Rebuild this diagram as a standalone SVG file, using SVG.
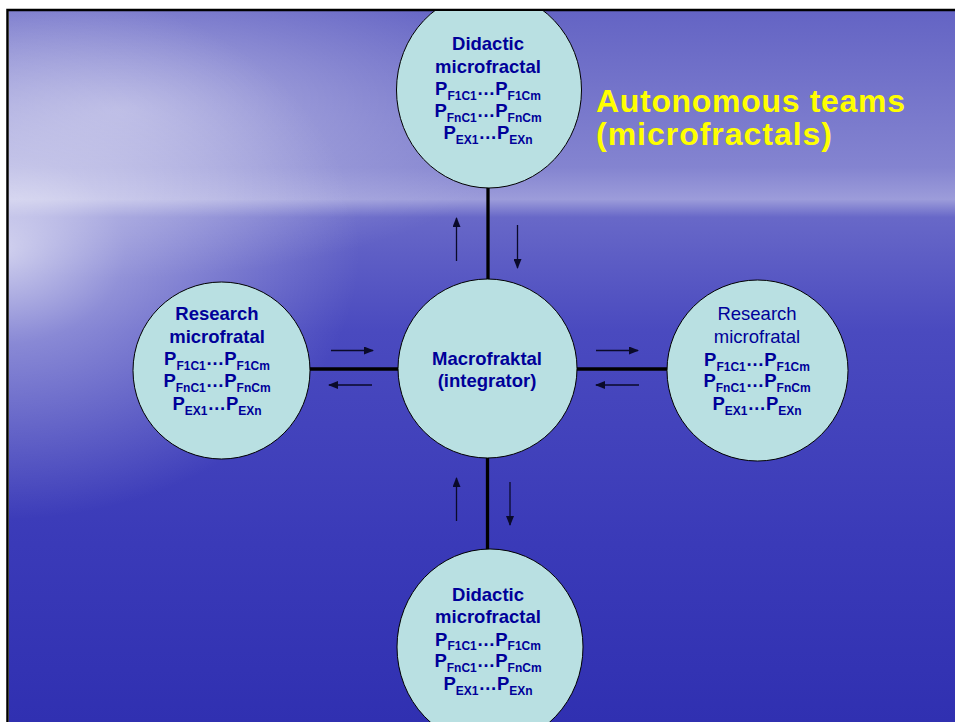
<svg xmlns="http://www.w3.org/2000/svg" width="955" height="722" viewBox="0 0 955 722">
  <defs>
    <linearGradient id="bgV" x1="0" y1="11" x2="0" y2="722" gradientUnits="userSpaceOnUse">
      <stop offset="0" stop-color="#6464c4"/>
      <stop offset="0.22" stop-color="#8484d0"/>
      <stop offset="0.265" stop-color="#9c9cda"/>
      <stop offset="0.29" stop-color="#6868c8"/>
      <stop offset="0.45" stop-color="#4a4abf"/>
      <stop offset="0.75" stop-color="#3a3ab8"/>
      <stop offset="1" stop-color="#3030b1"/>
    </linearGradient>
    <radialGradient id="sky" cx="120" cy="110" r="420" gradientUnits="userSpaceOnUse" gradientTransform="translate(120 110) scale(1 0.4) translate(-120 -110)">
      <stop offset="0" stop-color="#ffffff" stop-opacity="0.4"/>
      <stop offset="0.6" stop-color="#ffffff" stop-opacity="0.15"/>
      <stop offset="1" stop-color="#ffffff" stop-opacity="0"/>
    </radialGradient>
    <radialGradient id="glow" cx="0" cy="250" r="360" gradientUnits="userSpaceOnUse" gradientTransform="translate(0 250) scale(1 0.75) translate(0 -250)">
      <stop offset="0" stop-color="#ffffff" stop-opacity="0.7"/>
      <stop offset="0.35" stop-color="#ffffff" stop-opacity="0.35"/>
      <stop offset="1" stop-color="#ffffff" stop-opacity="0"/>
    </radialGradient>
    <clipPath id="slide">
      <rect x="9" y="11" width="946" height="711"/>
    </clipPath>
    <marker id="ah" markerUnits="userSpaceOnUse" markerWidth="10" markerHeight="8" refX="9" refY="4" orient="auto">
      <path d="M0,0 L10,4 L0,8 Z" fill="#0a0a2a"/>
    </marker>
  </defs>
  <style>
    .node { fill: #b9e0e2; stroke: #000; stroke-width: 1; }
    .t { font-family: "Liberation Sans", Arial, sans-serif; font-size: 18.5px; font-weight: bold; fill: #000099; text-anchor: middle; }
    .t.reg { font-weight: normal; }
    .sub { font-size: 12px; }
    .link { stroke: #000; stroke-width: 3.3; fill: none; }
    .flow { stroke: #0a0a2a; stroke-width: 1.3; fill: none; marker-end: url(#ah); }
    .title { font-family: "Liberation Sans", Arial, sans-serif; font-size: 32px; font-weight: bold; fill: #ffff00; }
  </style>

  <rect x="0" y="0" width="955" height="722" fill="#ffffff"/>
  <g id="background" clip-path="url(#slide)">
    <rect x="9" y="11" width="946" height="711" fill="url(#bgV)"/>
    <rect x="9" y="11" width="946" height="711" fill="url(#sky)"/>
    <rect x="9" y="11" width="946" height="711" fill="url(#glow)"/>
  </g>
  <path d="M7.5,722 V10 H955" fill="none" stroke="#000" stroke-width="2.5"/>

  <g id="connectors">
    <line class="link" x1="488" y1="186" x2="488" y2="281"/>
    <line class="link" x1="487.5" y1="456" x2="487.5" y2="551"/>
    <line class="link" x1="308" y1="369" x2="400" y2="369"/>
    <line class="link" x1="575" y1="369" x2="669" y2="369"/>
    <line class="flow" x1="456.5" y1="261" x2="456.5" y2="218"/>
    <line class="flow" x1="517.5" y1="225" x2="517.5" y2="268"/>
    <line class="flow" x1="456.5" y1="521" x2="456.5" y2="478"/>
    <line class="flow" x1="510" y1="482" x2="510" y2="525"/>
    <line class="flow" x1="331" y1="350.5" x2="373" y2="350.5"/>
    <line class="flow" x1="372" y1="385" x2="329" y2="385"/>
    <line class="flow" x1="596" y1="350.5" x2="638" y2="350.5"/>
    <line class="flow" x1="639" y1="385" x2="596" y2="385"/>
  </g>

  <g id="node-didactic-top" clip-path="url(#slide)">
    <ellipse class="node" cx="489" cy="90" rx="92.5" ry="98"/>
    <text class="t" x="488" y="49.5">Didactic</text>
    <text class="t" x="488" y="73">microfractal</text>
    <text class="t" x="488" y="95">P<tspan class="sub" dy="4.5">F1C1</tspan><tspan dy="-4.5">…P</tspan><tspan class="sub" dy="4.5">F1Cm</tspan></text>
    <text class="t" x="488" y="117">P<tspan class="sub" dy="4.5">FnC1</tspan><tspan dy="-4.5">…P</tspan><tspan class="sub" dy="4.5">FnCm</tspan></text>
    <text class="t" x="488" y="139">P<tspan class="sub" dy="4.5">EX1</tspan><tspan dy="-4.5">…P</tspan><tspan class="sub" dy="4.5">EXn</tspan></text>
  </g>

  <g id="node-research-left">
    <circle class="node" cx="221.5" cy="370.5" r="88.5"/>
    <text class="t" x="217" y="320">Research</text>
    <text class="t" x="217" y="343">microfratal</text>
    <text class="t" x="217" y="365">P<tspan class="sub" dy="4.5">F1C1</tspan><tspan dy="-4.5">…P</tspan><tspan class="sub" dy="4.5">F1Cm</tspan></text>
    <text class="t" x="217" y="387">P<tspan class="sub" dy="4.5">FnC1</tspan><tspan dy="-4.5">…P</tspan><tspan class="sub" dy="4.5">FnCm</tspan></text>
    <text class="t" x="217" y="410">P<tspan class="sub" dy="4.5">EX1</tspan><tspan dy="-4.5">…P</tspan><tspan class="sub" dy="4.5">EXn</tspan></text>
  </g>

  <g id="node-macrofraktal">
    <circle class="node" cx="487.5" cy="368.5" r="89.5"/>
    <text class="t" x="487" y="365">Macrofraktal</text>
    <text class="t" x="487" y="387">(integrator)</text>
  </g>

  <g id="node-research-right">
    <circle class="node" cx="757.5" cy="370.5" r="90.5"/>
    <text class="t reg" x="757" y="320">Research</text>
    <text class="t reg" x="757" y="343">microfratal</text>
    <text class="t" x="757" y="366">P<tspan class="sub" dy="4.5">F1C1</tspan><tspan dy="-4.5">…P</tspan><tspan class="sub" dy="4.5">F1Cm</tspan></text>
    <text class="t" x="757" y="387">P<tspan class="sub" dy="4.5">FnC1</tspan><tspan dy="-4.5">…P</tspan><tspan class="sub" dy="4.5">FnCm</tspan></text>
    <text class="t" x="757" y="410">P<tspan class="sub" dy="4.5">EX1</tspan><tspan dy="-4.5">…P</tspan><tspan class="sub" dy="4.5">EXn</tspan></text>
  </g>

  <g id="node-didactic-bottom" clip-path="url(#slide)">
    <ellipse class="node" cx="490" cy="647" rx="93" ry="98"/>
    <text class="t" x="488" y="600.5">Didactic</text>
    <text class="t" x="488" y="623">microfractal</text>
    <text class="t" x="488" y="645.5">P<tspan class="sub" dy="4.5">F1C1</tspan><tspan dy="-4.5">…P</tspan><tspan class="sub" dy="4.5">F1Cm</tspan></text>
    <text class="t" x="488" y="667">P<tspan class="sub" dy="4.5">FnC1</tspan><tspan dy="-4.5">…P</tspan><tspan class="sub" dy="4.5">FnCm</tspan></text>
    <text class="t" x="488" y="690">P<tspan class="sub" dy="4.5">EX1</tspan><tspan dy="-4.5">…P</tspan><tspan class="sub" dy="4.5">EXn</tspan></text>
  </g>

  <g id="title">
    <text class="title" x="596" y="111.5" textLength="309">Autonomous teams</text>
    <text class="title" x="596" y="145" textLength="236">(microfractals)</text>
  </g>
</svg>
